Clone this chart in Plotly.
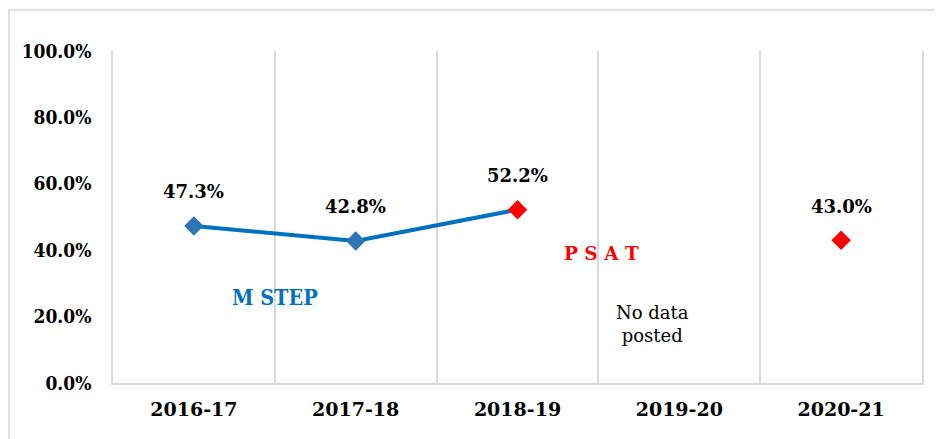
import plotly.graph_objects as go

categories = ["2016-17", "2017-18", "2018-19", "2019-20", "2020-21"]
mstep_years = ["2016-17", "2017-18", "2018-19"]
mstep_values = [0.473, 0.428, 0.522]
mstep_marker_colors = ["#2E75B6", "#2E75B6", "#FF0000"]
psat_years = ["2020-21"]
psat_values = [0.430]
label_years = ["2016-17", "2017-18", "2018-19", "2020-21"]
label_values = [0.473, 0.428, 0.522, 0.430]
y_ticks = [0, 0.2, 0.4, 0.6, 0.8, 1.0]

SERIF = "DejaVu Serif"
COND = "DejaVu Serif Condensed"
BLUE = "#0070C0"
RED = "#FF0000"
GRID = "#d9d9d9"

fig = go.Figure()
fig.add_trace(go.Scatter(
    x=mstep_years, y=mstep_values, mode="lines+markers",
    line=dict(color=BLUE, width=4),
    marker=dict(symbol="diamond", size=15, color=mstep_marker_colors),
    showlegend=False, hoverinfo="skip"))
fig.add_trace(go.Scatter(
    x=psat_years, y=psat_values, mode="markers",
    marker=dict(symbol="diamond", size=15, color=RED),
    showlegend=False, hoverinfo="skip"))

for xv, yv in zip(label_years, label_values):
    fig.add_annotation(x=xv, y=yv, text=f"{yv*100:.1f}%", showarrow=False,
                       yshift=34, font=dict(family=SERIF, size=18, color="black", weight="bold"))

fig.add_annotation(x=0.5, y=0.259, text="M STEP", showarrow=False,
                   font=dict(family=COND, size=21.5, color=BLUE, weight="bold"))
fig.add_annotation(x=2.52, y=0.39, text="P S A T", showarrow=False,
                   font=dict(family=SERIF, size=18.5, color=RED, weight="bold"))
fig.add_annotation(x=2.835, y=0.178, text="No data<br>posted", showarrow=False,
                   font=dict(family=SERIF, size=18, color="black"))

fig.add_shape(type="rect", xref="paper", yref="paper",
              x0=(9 - 113) / 809, x1=1.2, y0=-0.3, y1=(383 - 10) / 332,
              line=dict(color=GRID, width=1.5), layer="below")

fig.update_xaxes(
    type="category", categoryorder="array", categoryarray=categories,
    tickson="boundaries", showgrid=True, gridcolor=GRID, gridwidth=1.5,
    showline=True, linecolor=GRID, linewidth=1.5, ticks="", ticklen=0,
    ticklabelstandoff=8,
    tickfont=dict(family=SERIF, size=19, color="black", weight="bold"),
    range=[-0.5, 4.5])
fig.update_yaxes(
    range=[0, 1], tickvals=y_ticks, tickformat=".1%", showgrid=False,
    showline=True, mirror=True, linecolor=GRID, linewidth=1.5, zeroline=False,
    ticklabelstandoff=16,
    tickfont=dict(family=COND, size=19, color="black", weight="bold"))

fig.update_layout(
    width=943, height=439,
    margin=dict(l=105, r=29, t=43, b=64),
    paper_bgcolor="white", plot_bgcolor="white")

fig.write_html("out.html")
